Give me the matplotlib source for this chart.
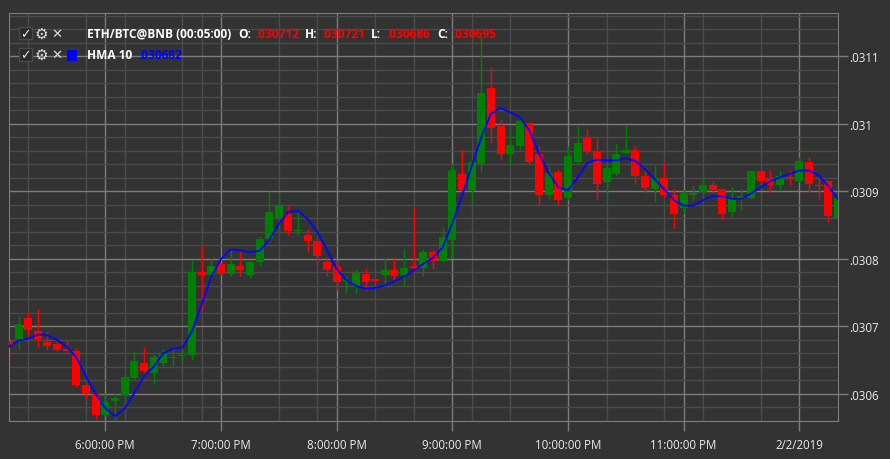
import matplotlib
matplotlib.use("Agg")
import matplotlib.pyplot as plt
from matplotlib.patches import Rectangle
import numpy as np

# 5-minute candles, ETH/BTC, starting at 5:10 PM (x = minutes after 5:10 PM)
minutes = np.arange(87) * 5

opens = [30679, 30681, 30712, 30694, 30677, 30674, 30666, 30664, 30614, 30600,
         30569, 30590, 30598, 30624, 30646, 30631, 30646, 30654, 30656, 30658,
         30780, 30776, 30793, 30778, 30789, 30776, 30796, 30829, 30861, 30867,
         30841, 30836, 30827, 30796, 30790, 30768, 30759, 30778, 30770, 30776,
         30784, 30776, 30789, 30787, 30811, 30797, 30828, 30926, 30902, 30941,
         31053, 30997, 30956, 30968, 31002, 30956, 30894, 30929, 30891, 30943,
         30979, 30958, 30914, 30926, 30957, 30962, 30923, 30903, 30920, 30895,
         30876, 30894, 30899, 30910, 30903, 30869, 30890, 30891, 30930, 30919,
         30909, 30922, 30915, 30943, 30910, 30915, 30861]
highs = [30681, 30716, 30721, 30726, 30694, 30678, 30680, 30668, 30615, 30601,
         30601, 30601, 30628, 30664, 30669, 30659, 30667, 30666, 30668, 30799,
         30821, 30801, 30794, 30818, 30810, 30797, 30834, 30900, 30897, 30878,
         30871, 30845, 30830, 30803, 30798, 30775, 30785, 30786, 30771, 30801,
         30802, 30815, 30876, 30815, 30815, 30848, 30940, 30963, 30948, 31128,
         31085, 31007, 30991, 31009, 31003, 30968, 30938, 30931, 30967, 30997,
         30993, 30981, 30940, 30971, 30998, 30967, 30931, 30939, 30943, 30904,
         30902, 30910, 30925, 30916, 30904, 30907, 30904, 30931, 30931, 30931,
         30931, 30931, 30951, 30951, 30920, 30916, 30895]
lows = [30648, 30666, 30686, 30670, 30665, 30664, 30663, 30611, 30592, 30563,
        30568, 30562, 30582, 30622, 30631, 30615, 30641, 30641, 30648, 30651,
        30724, 30775, 30776, 30775, 30775, 30772, 30790, 30825, 30840, 30835,
        30835, 30811, 30792, 30775, 30754, 30749, 30749, 30752, 30766, 30761,
        30769, 30760, 30781, 30775, 30785, 30796, 30801, 30899, 30883, 30929,
        30972, 30947, 30941, 30961, 30939, 30880, 30887, 30880, 30887, 30941,
        30955, 30888, 30895, 30923, 30955, 30911, 30897, 30884, 30892, 30846,
        30866, 30887, 30887, 30897, 30857, 30862, 30872, 30889, 30914, 30899,
        30903, 30909, 30914, 30899, 30888, 30855, 30855]
closes = [30672, 30703, 30695, 30681, 30671, 30665, 30664, 30613, 30600, 30569,
          30588, 30594, 30625, 30649, 30634, 30655, 30660, 30655, 30658, 30780,
          30776, 30790, 30778, 30792, 30783, 30796, 30830, 30869, 30878, 30841,
          30843, 30826, 30804, 30783, 30766, 30769, 30779, 30766, 30768, 30784,
          30775, 30787, 30786, 30811, 30797, 30833, 30931, 30902, 30943, 31046,
          30994, 30956, 30969, 31005, 30944, 30894, 30928, 30887, 30952, 30971,
          30959, 30911, 30935, 30956, 30962, 30923, 30905, 30920, 30894, 30867,
          30897, 30898, 30910, 30902, 30867, 30889, 30893, 30930, 30916, 30909,
          30923, 30920, 30945, 30911, 30908, 30863, 30890]
hma10 = [30670, 30679, 30682, 30688, 30687, 30680, 30670, 30654, 30626, 30600,
         30579, 30567, 30578, 30601, 30626, 30640, 30660, 30667, 30669, 30693,
         30733, 30774, 30800, 30814, 30813, 30810, 30812, 30828, 30852, 30870,
         30871, 30859, 30840, 30813, 30785, 30769, 30760, 30756, 30757, 30761,
         30767, 30774, 30783, 30793, 30802, 30817, 30853, 30893, 30937, 30980,
         31015, 31024, 31017, 31010, 30990, 30956, 30927, 30906, 30902, 30920,
         30942, 30947, 30946, 30946, 30949, 30945, 30933, 30918, 30903, 30887,
         30879, 30879, 30887, 30893, 30893, 30889, 30889, 30897, 30906, 30915,
         30921, 30926, 30931, 30931, 30924, 30908, 30889]

scale = 1e-6
o = np.array(opens) * scale
h = np.array(highs) * scale
l = np.array(lows) * scale
c = np.array(closes) * scale
hma = np.array(hma10) * scale

hour_ticks = [50, 110, 170, 230, 290, 350, 410]
hour_labels = ["6:00:00 PM", "7:00:00 PM", "8:00:00 PM", "9:00:00 PM",
               "10:00:00 PM", "11:00:00 PM", "2/2/2019"]
minor_x = [10, 40, 60, 90, 100, 140, 160, 190, 210, 240, 260, 310, 340, 360, 390]
price_ticks = [0.0306, 0.0307, 0.0308, 0.0309, 0.0310, 0.0311]
price_labels = [".0306", ".0307", ".0308", ".0309", ".031", ".0311"]

BG = "#333333"
MAJOR = "#7c7c7c"
MINOR = "#4b4b4b"
UP = "#008000"
DOWN = "#ff0000"

plt.rcParams["font.family"] = ["Open Sans", "DejaVu Sans"]

fig = plt.figure(figsize=(8.9, 4.6), dpi=100, facecolor=BG)
ax = fig.add_axes([9.3 / 890, 1 - 422 / 460, (837.7 - 9.3) / 890, (422 - 14.3) / 460])
ax.set_facecolor(BG)

colors = np.where(c >= o, UP, DOWN)
ax.vlines(minutes, l, h, colors=colors, lw=1, zorder=2)
body = np.maximum(np.abs(c - o), 1.4e-6)
ax.bar(minutes, body, bottom=np.minimum(o, c), width=4.15, color=colors,
       linewidth=0, zorder=3)
ax.plot(minutes, hma, color="#0808f0", lw=1.4, zorder=4)

ax.set_xlim(0.2, 429.9)
ax.set_ylim(0.0305616, 0.0311638)

ax.set_xticks(hour_ticks)
ax.set_xticklabels(hour_labels)
ax.set_xticks(minor_x, minor=True)
ax.set_yticks(price_ticks)
ax.set_yticklabels(price_labels)
ax.set_yticks(np.arange(0.03056, 0.03117, 0.00002), minor=True)
ax.yaxis.tick_right()

ax.grid(which="major", color=MAJOR, lw=1, zorder=0)
ax.grid(which="minor", color=MINOR, lw=1, zorder=0)
ax.set_axisbelow(True)

ax.tick_params(axis="both", which="major", direction="out", length=7.5,
               width=1, color=MAJOR, labelcolor="#ececec", labelsize=8.3)
ax.tick_params(axis="x", which="major", pad=5)
ax.tick_params(axis="y", which="major", pad=1)
ax.tick_params(which="minor", length=0)
for s in ax.spines.values():
    s.set_color(MAJOR)

# legend header (drawn in pixel coordinates of the figure)
def px(x, y):
    return x / 890, 1 - y / 460

bold = dict(fontsize=8.6, fontweight="bold", va="center", ha="left")
rows = [34.3, 55.7]
for ry in rows:
    fig.patches.append(Rectangle(px(18.5, ry + 6), 13 / 890, 12.5 / 460,
                                 transform=fig.transFigure, facecolor="#2b2b2b",
                                 edgecolor="#4a4a4a", lw=1))
    fig.text(*px(25, ry), "\u2713", color="#e8e8e8", fontsize=9,
             ha="center", va="center", family=["DejaVu Sans"])
    fig.text(*px(41.5, ry), "\u2699", color="#dcdcdc", fontsize=11,
             ha="center", va="center", family=["DejaVu Sans"])
    fig.text(*px(57, ry), "\u2715", color="#dcdcdc", fontsize=9.5,
             ha="center", va="center", family=["DejaVu Sans"])

fig.patches.append(Rectangle(px(66.7, 61.7), 10.6 / 890, 10.6 / 460,
                             transform=fig.transFigure, facecolor="#0000ff", lw=0))

fig.text(*px(87, rows[0]), "ETH/BTC@BNB (00:05:00)", color="white", **bold)
fig.text(*px(238, rows[0]), "O:", color="white", **bold)
fig.text(*px(255, rows[0]), ".030712", color=DOWN, **bold)
fig.text(*px(305, rows[0]), "H:", color="white", **bold)
fig.text(*px(321, rows[0]), ".030721", color=DOWN, **bold)
fig.text(*px(371, rows[0]), "L:", color="white", **bold)
fig.text(*px(386, rows[0]), ".030686", color=DOWN, **bold)
fig.text(*px(437, rows[0]), "C:", color="white", **bold)
fig.text(*px(452, rows[0]), ".030695", color=DOWN, **bold)
fig.text(*px(87, rows[1]), "HMA 10", color="white", **bold)
fig.text(*px(138, rows[1]), ".030682", color="#0000ff", **bold)

fig.savefig("out.png", dpi=100, facecolor=BG)
